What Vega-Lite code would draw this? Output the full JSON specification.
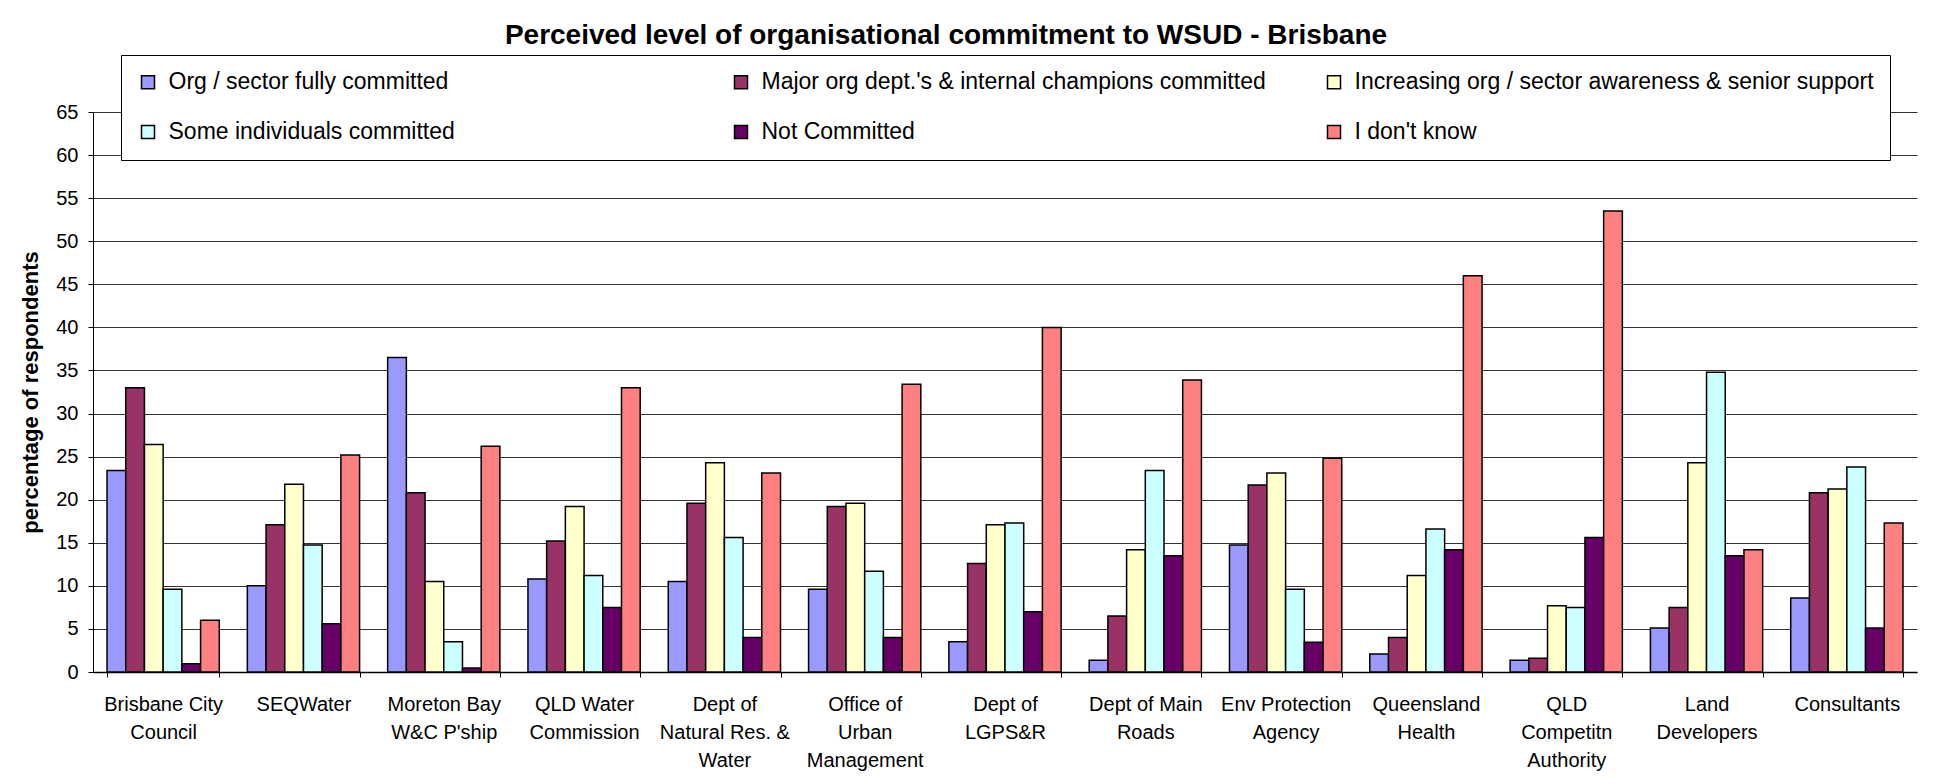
{
  "$schema": "https://vega.github.io/schema/vega-lite/v6.json",
  "autosize": {"type": "none"},
  "width": 1824,
  "height": 560,
  "padding": {"left": 93, "top": 112, "right": 19, "bottom": 112},
  "title": {
    "text": "Perceived level of organisational commitment to WSUD - Brisbane",
    "font": "Liberation Sans",
    "fontSize": 28,
    "fontWeight": "bold",
    "color": "black",
    "anchor": "middle",
    "baseline": "alphabetic",
    "offset": 8,
    "dy": 25,
    "dx": -59
  },
  "data": {
    "values": [
      {"organisation": "Brisbane City|Council", "level": "Org / sector fully committed", "pct": 23.4},
      {"organisation": "Brisbane City|Council", "level": "Major org dept.'s & internal champions committed", "pct": 33.0},
      {"organisation": "Brisbane City|Council", "level": "Increasing org / sector awareness & senior support", "pct": 26.4},
      {"organisation": "Brisbane City|Council", "level": "Some individuals committed", "pct": 9.6},
      {"organisation": "Brisbane City|Council", "level": "Not Committed", "pct": 0.97},
      {"organisation": "Brisbane City|Council", "level": "I don't know", "pct": 6.0},
      {"organisation": "SEQWater", "level": "Org / sector fully committed", "pct": 10.0},
      {"organisation": "SEQWater", "level": "Major org dept.'s & internal champions committed", "pct": 17.1},
      {"organisation": "SEQWater", "level": "Increasing org / sector awareness & senior support", "pct": 21.8},
      {"organisation": "SEQWater", "level": "Some individuals committed", "pct": 14.75},
      {"organisation": "SEQWater", "level": "Not Committed", "pct": 5.6},
      {"organisation": "SEQWater", "level": "I don't know", "pct": 25.2},
      {"organisation": "Moreton Bay|W&C P'ship", "level": "Org / sector fully committed", "pct": 36.5},
      {"organisation": "Moreton Bay|W&C P'ship", "level": "Major org dept.'s & internal champions committed", "pct": 20.8},
      {"organisation": "Moreton Bay|W&C P'ship", "level": "Increasing org / sector awareness & senior support", "pct": 10.5},
      {"organisation": "Moreton Bay|W&C P'ship", "level": "Some individuals committed", "pct": 3.5},
      {"organisation": "Moreton Bay|W&C P'ship", "level": "Not Committed", "pct": 0.45},
      {"organisation": "Moreton Bay|W&C P'ship", "level": "I don't know", "pct": 26.2},
      {"organisation": "QLD Water|Commission", "level": "Org / sector fully committed", "pct": 10.8},
      {"organisation": "QLD Water|Commission", "level": "Major org dept.'s & internal champions committed", "pct": 15.2},
      {"organisation": "QLD Water|Commission", "level": "Increasing org / sector awareness & senior support", "pct": 19.2},
      {"organisation": "QLD Water|Commission", "level": "Some individuals committed", "pct": 11.2},
      {"organisation": "QLD Water|Commission", "level": "Not Committed", "pct": 7.5},
      {"organisation": "QLD Water|Commission", "level": "I don't know", "pct": 33.0},
      {"organisation": "Dept of|Natural Res. &|Water", "level": "Org / sector fully committed", "pct": 10.5},
      {"organisation": "Dept of|Natural Res. &|Water", "level": "Major org dept.'s & internal champions committed", "pct": 19.6},
      {"organisation": "Dept of|Natural Res. &|Water", "level": "Increasing org / sector awareness & senior support", "pct": 24.3},
      {"organisation": "Dept of|Natural Res. &|Water", "level": "Some individuals committed", "pct": 15.6},
      {"organisation": "Dept of|Natural Res. &|Water", "level": "Not Committed", "pct": 4.0},
      {"organisation": "Dept of|Natural Res. &|Water", "level": "I don't know", "pct": 23.1},
      {"organisation": "Office of|Urban|Management", "level": "Org / sector fully committed", "pct": 9.6},
      {"organisation": "Office of|Urban|Management", "level": "Major org dept.'s & internal champions committed", "pct": 19.2},
      {"organisation": "Office of|Urban|Management", "level": "Increasing org / sector awareness & senior support", "pct": 19.6},
      {"organisation": "Office of|Urban|Management", "level": "Some individuals committed", "pct": 11.7},
      {"organisation": "Office of|Urban|Management", "level": "Not Committed", "pct": 4.0},
      {"organisation": "Office of|Urban|Management", "level": "I don't know", "pct": 33.4},
      {"organisation": "Dept of|LGPS&R", "level": "Org / sector fully committed", "pct": 3.5},
      {"organisation": "Dept of|LGPS&R", "level": "Major org dept.'s & internal champions committed", "pct": 12.6},
      {"organisation": "Dept of|LGPS&R", "level": "Increasing org / sector awareness & senior support", "pct": 17.1},
      {"organisation": "Dept of|LGPS&R", "level": "Some individuals committed", "pct": 17.3},
      {"organisation": "Dept of|LGPS&R", "level": "Not Committed", "pct": 7.0},
      {"organisation": "Dept of|LGPS&R", "level": "I don't know", "pct": 40.0},
      {"organisation": "Dept of Main|Roads", "level": "Org / sector fully committed", "pct": 1.35},
      {"organisation": "Dept of Main|Roads", "level": "Major org dept.'s & internal champions committed", "pct": 6.5},
      {"organisation": "Dept of Main|Roads", "level": "Increasing org / sector awareness & senior support", "pct": 14.2},
      {"organisation": "Dept of Main|Roads", "level": "Some individuals committed", "pct": 23.4},
      {"organisation": "Dept of Main|Roads", "level": "Not Committed", "pct": 13.5},
      {"organisation": "Dept of Main|Roads", "level": "I don't know", "pct": 33.9},
      {"organisation": "Env Protection|Agency", "level": "Org / sector fully committed", "pct": 14.75},
      {"organisation": "Env Protection|Agency", "level": "Major org dept.'s & internal champions committed", "pct": 21.7},
      {"organisation": "Env Protection|Agency", "level": "Increasing org / sector awareness & senior support", "pct": 23.1},
      {"organisation": "Env Protection|Agency", "level": "Some individuals committed", "pct": 9.6},
      {"organisation": "Env Protection|Agency", "level": "Not Committed", "pct": 3.45},
      {"organisation": "Env Protection|Agency", "level": "I don't know", "pct": 24.8},
      {"organisation": "Queensland|Health", "level": "Org / sector fully committed", "pct": 2.1},
      {"organisation": "Queensland|Health", "level": "Major org dept.'s & internal champions committed", "pct": 4.0},
      {"organisation": "Queensland|Health", "level": "Increasing org / sector awareness & senior support", "pct": 11.2},
      {"organisation": "Queensland|Health", "level": "Some individuals committed", "pct": 16.6},
      {"organisation": "Queensland|Health", "level": "Not Committed", "pct": 14.2},
      {"organisation": "Queensland|Health", "level": "I don't know", "pct": 46.0},
      {"organisation": "QLD|Competitn|Authority", "level": "Org / sector fully committed", "pct": 1.35},
      {"organisation": "QLD|Competitn|Authority", "level": "Major org dept.'s & internal champions committed", "pct": 1.6},
      {"organisation": "QLD|Competitn|Authority", "level": "Increasing org / sector awareness & senior support", "pct": 7.7},
      {"organisation": "QLD|Competitn|Authority", "level": "Some individuals committed", "pct": 7.5},
      {"organisation": "QLD|Competitn|Authority", "level": "Not Committed", "pct": 15.6},
      {"organisation": "QLD|Competitn|Authority", "level": "I don't know", "pct": 53.5},
      {"organisation": "Land|Developers", "level": "Org / sector fully committed", "pct": 5.1},
      {"organisation": "Land|Developers", "level": "Major org dept.'s & internal champions committed", "pct": 7.5},
      {"organisation": "Land|Developers", "level": "Increasing org / sector awareness & senior support", "pct": 24.3},
      {"organisation": "Land|Developers", "level": "Some individuals committed", "pct": 34.8},
      {"organisation": "Land|Developers", "level": "Not Committed", "pct": 13.5},
      {"organisation": "Land|Developers", "level": "I don't know", "pct": 14.2},
      {"organisation": "Consultants", "level": "Org / sector fully committed", "pct": 8.6},
      {"organisation": "Consultants", "level": "Major org dept.'s & internal champions committed", "pct": 20.8},
      {"organisation": "Consultants", "level": "Increasing org / sector awareness & senior support", "pct": 21.25},
      {"organisation": "Consultants", "level": "Some individuals committed", "pct": 23.8},
      {"organisation": "Consultants", "level": "Not Committed", "pct": 5.1},
      {"organisation": "Consultants", "level": "I don't know", "pct": 17.3}
    ]
  },
  "mark": {"type": "bar", "stroke": "black", "strokeWidth": 1.5},
  "encoding": {
    "x": {
      "field": "organisation",
      "type": "nominal",
      "sort": null,
      "scale": {"paddingInner": 0.2, "paddingOuter": 0.1},
      "axis": {
        "title": null,
        "labelExpr": "isValid(datum.value) ? split(datum.value, '|') : ''",
        "labelAngle": 0,
        "labelFont": "Liberation Sans",
        "labelFontSize": 20,
        "labelLineHeight": 28,
        "labelPadding": 17,
        "labelColor": "black",
        "tickSize": 5,
        "tickColor": "black",
        "tickBand": "extent",
        "domainColor": "black",
        "domainWidth": 1.5,
        "grid": false
      }
    },
    "xOffset": {
      "field": "level",
      "type": "nominal",
      "sort": ["Org / sector fully committed", "Major org dept.'s & internal champions committed", "Increasing org / sector awareness & senior support", "Some individuals committed", "Not Committed", "I don't know"],
      "scale": {"paddingInner": 0, "paddingOuter": 0}
    },
    "y": {
      "field": "pct",
      "type": "quantitative",
      "scale": {"domain": [0, 65], "nice": false, "zero": true},
      "axis": {
        "title": "percentage of respondents",
        "titleFont": "Liberation Sans",
        "titleFontSize": 22,
        "titleFontWeight": "bold",
        "titleColor": "black",
        "titlePadding": 13,
        "values": [0, 5, 10, 15, 20, 25, 30, 35, 40, 45, 50, 55, 60, 65],
        "labelFont": "Liberation Sans",
        "labelFontSize": 20,
        "labelColor": "black",
        "labelPadding": 10,
        "tickSize": 5,
        "tickColor": "black",
        "domainColor": "black",
        "grid": true,
        "gridColor": "#333333",
        "gridWidth": 1
      }
    },
    "color": {
      "field": "level",
      "type": "nominal",
      "scale": {
        "domain": ["Org / sector fully committed", "Major org dept.'s & internal champions committed", "Increasing org / sector awareness & senior support", "Some individuals committed", "Not Committed", "I don't know"],
        "range": ["#9999FF", "#993366", "#FFFFCC", "#CCFFFF", "#660066", "#FF8080"]
      },
      "legend": {
        "title": null,
        "orient": "none",
        "legendX": 28,
        "legendY": -57,
        "direction": "horizontal",
        "columns": 3,
        "gridAlign": "all",
        "padding": 15.5,
        "rowPadding": 26,
        "columnPadding": 41,
        "symbolType": "square",
        "symbolSize": 169,
        "symbolStrokeColor": "black",
        "symbolStrokeWidth": 1.5,
        "labelFont": "Liberation Sans",
        "labelFontSize": 23,
        "labelColor": "black",
        "labelOffset": 9,
        "labelLimit": 800,
        "strokeColor": "black",
        "fillColor": "white"
      }
    }
  },
  "config": {
    "view": {"stroke": null},
    "font": "Liberation Sans",
    "background": "white"
  }
}
